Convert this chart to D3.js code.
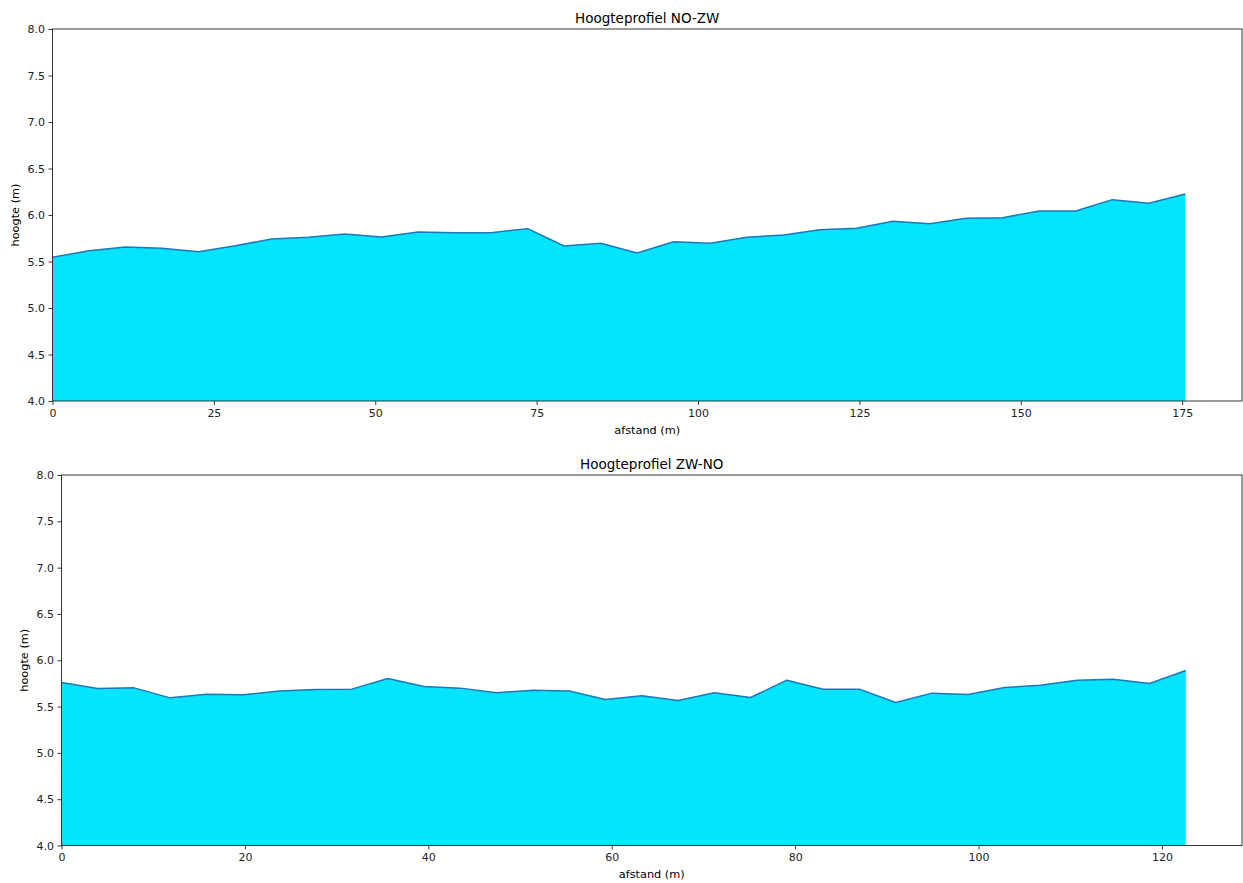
<!DOCTYPE html>
<html>
<head>
<meta charset="utf-8">
<script src="https://cdn.jsdelivr.net/npm/d3@7"></script>
<style>
  body { margin: 0; background: #fff; }
  svg { display: block; font-family: 'DejaVu Sans', sans-serif; }
</style>
</head>
<body>
<div id="chart"></div>
<script>
// NO-ZW profile (distance in m, height in m)
const afstandNOZW = [0, 5.66, 11.32, 16.98, 22.64, 28.31, 33.97, 39.63, 45.29, 50.95, 56.61, 62.27, 67.94, 73.6, 79.26, 84.92,
  90.58, 96.24, 101.9, 107.56, 113.23, 118.89, 124.55, 130.21, 135.87, 141.53, 147.19, 152.85, 158.52, 164.18, 169.84, 175.5];
const hoogteNOZW = [5.545, 5.616, 5.656, 5.642, 5.605, 5.67, 5.742, 5.76, 5.796, 5.763, 5.817, 5.81, 5.81, 5.853, 5.667, 5.696,
  5.591, 5.713, 5.696, 5.76, 5.785, 5.842, 5.857, 5.932, 5.906, 5.964, 5.971, 6.043, 6.043, 6.165, 6.126, 6.226];

// ZW-NO profile
const afstandZWNO = [0, 3.95, 7.91, 11.86, 15.82, 19.77, 23.73, 27.68, 31.64, 35.59, 39.55, 43.5, 47.46, 51.41, 55.37, 59.32,
  63.28, 67.23, 71.19, 75.14, 79.1, 83.05, 87.01, 90.96, 94.92, 98.87, 102.83, 106.78, 110.74, 114.69, 118.65, 122.6];
const hoogteZWNO = [5.76, 5.695, 5.702, 5.594, 5.634, 5.627, 5.667, 5.684, 5.688, 5.803, 5.716, 5.699, 5.648, 5.677, 5.667, 5.576,
  5.616, 5.566, 5.648, 5.598, 5.785, 5.688, 5.688, 5.544, 5.645, 5.63, 5.705, 5.731, 5.785, 5.796, 5.749, 5.889];

const yTicks = [4.0, 4.5, 5.0, 5.5, 6.0, 6.5, 7.0, 7.5, 8.0];
const xTicksNOZW = [0, 25, 50, 75, 100, 125, 150, 175];
const xTicksZWNO = [0, 20, 40, 60, 80, 100, 120];

const W = 1243, H = 883;
const FILL = '#04e4fe', LINE = '#1f77b4';

const svg = d3.select('#chart').append('svg')
  .attr('width', W)
  .attr('height', H);

function drawProfile(title, xs, ys, xTicks, box) {
  const pts = xs.map((x, i) => ({x: x, y: ys[i]}));
  // matplotlib-style 5% margin on the right only, xlim starts at 0
  const xMax = d3.max(xs) * 1.05;

  const x = d3.scaleLinear().domain([0, xMax]).range([box.left, box.right]);
  const y = d3.scaleLinear().domain([4, 8]).range([box.bottom, box.top]);

  const g = svg.append('g');

  // filled area under the profile
  g.append('path')
    .datum(pts)
    .attr('d', d3.area().x(d => x(d.x)).y0(y(4)).y1(d => y(d.y)))
    .attr('fill', FILL);

  g.append('path')
    .datum(pts)
    .attr('d', d3.line().x(d => x(d.x)).y(d => y(d.y)))
    .attr('fill', 'none')
    .attr('stroke', LINE)
    .attr('stroke-width', 1.5)
    .attr('stroke-linejoin', 'round');

  // axes
  const xAxis = g.append('g')
    .attr('transform', `translate(0,${box.bottom})`)
    .call(d3.axisBottom(x).tickValues(xTicks).tickSize(4).tickPadding(4).tickFormat(d3.format('d')));
  const yAxis = g.append('g')
    .attr('transform', `translate(${box.left},0)`)
    .call(d3.axisLeft(y).tickValues(yTicks).tickSize(4).tickPadding(3.5).tickFormat(d3.format('.1f')));

  [xAxis, yAxis].forEach(a => {
    a.select('.domain').remove();
    a.selectAll('text').attr('font-size', 11).attr('font-family', 'DejaVu Sans').attr('fill', '#222');
    a.selectAll('line').attr('stroke', '#222').attr('stroke-width', 0.9);
  });

  // spines
  g.append('rect')
    .attr('x', box.left)
    .attr('y', box.top)
    .attr('width', box.right - box.left)
    .attr('height', box.bottom - box.top)
    .attr('fill', 'none')
    .attr('stroke', '#222')
    .attr('stroke-width', 0.9);

  g.append('text')
    .attr('x', (box.left + box.right) / 2)
    .attr('y', box.top - 6.5)
    .attr('text-anchor', 'middle')
    .attr('font-size', 13.5)
    .text(title);

  g.append('text')
    .attr('x', (box.left + box.right) / 2)
    .attr('y', box.bottom + 32.5)
    .attr('text-anchor', 'middle')
    .attr('font-size', 11.3)
    .text('afstand (m)');

  g.append('text')
    .attr('transform', `translate(${box.left - 34},${(box.top + box.bottom) / 2}) rotate(-90)`)
    .attr('text-anchor', 'middle')
    .attr('font-size', 11.3)
    .text('hoogte (m)');
}

drawProfile('Hoogteprofiel NO-ZW', afstandNOZW, hoogteNOZW, xTicksNOZW, {left: 52.5, right: 1242, top: 29, bottom: 401});
drawProfile('Hoogteprofiel ZW-NO', afstandZWNO, hoogteZWNO, xTicksZWNO, {left: 61.5, right: 1242, top: 475, bottom: 845.5});
</script>
</body>
</html>
